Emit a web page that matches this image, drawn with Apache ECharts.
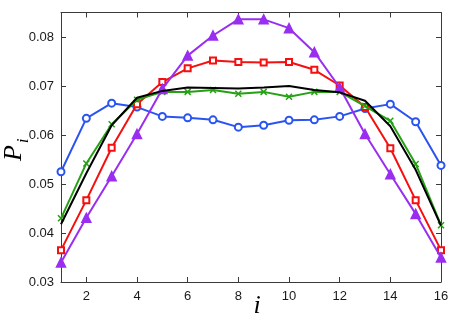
<!DOCTYPE html>
<html>
<head>
<meta charset="utf-8">
<script src="https://cdn.jsdelivr.net/npm/echarts@6/dist/echarts.min.js"></script>
<style>
  html, body { margin: 0; padding: 0; background: #fff; }
  #main { width: 457px; height: 322px; }
</style>
</head>
<body>
<div id="main"></div>
<script>
var idx = [1, 2, 3, 4, 5, 6, 7, 8, 9, 10, 11, 12, 13, 14, 15, 16];
var xTicks = [2, 4, 6, 8, 10, 12, 14, 16];
var yTicks = [0.03, 0.04, 0.05, 0.06, 0.07, 0.08];

var blue   = [0.0525, 0.0634, 0.0665, 0.0657, 0.0638, 0.0635, 0.0631, 0.0616, 0.0620, 0.0630, 0.0631, 0.0638, 0.0654, 0.0663, 0.0627, 0.0538];
var red    = [0.0365, 0.0467, 0.0574, 0.0663, 0.0708, 0.0736, 0.0752, 0.0749, 0.0748, 0.0749, 0.0733, 0.0701, 0.0657, 0.0573, 0.0467, 0.0365];
var green  = [0.0430, 0.0542, 0.0622, 0.0672, 0.0688, 0.0688, 0.0692, 0.0684, 0.0688, 0.0678, 0.0688, 0.0688, 0.0659, 0.0629, 0.0541, 0.0416];
var purple = [0.0340, 0.0431, 0.0516, 0.0602, 0.0694, 0.0762, 0.0803, 0.0836, 0.0836, 0.0818, 0.0769, 0.0697, 0.0602, 0.0520, 0.0439, 0.0350];
var black  = [0.0418, 0.0522, 0.0620, 0.0676, 0.0690, 0.0697, 0.0696, 0.0695, 0.0697, 0.0700, 0.0692, 0.0687, 0.0670, 0.0618, 0.0529, 0.0415];

function pairs(vals) {
  return idx.map(function (x, k) { return [x, vals[k]]; });
}

var axisCol = '#3a3a3a';
var labelFont = { fontFamily: 'Liberation Sans', fontSize: 13, color: '#1a1a1a' };

function mkSeries(vals, color, symbol, size, z) {
  return {
    type: 'line',
    data: pairs(vals),
    symbol: symbol,
    symbolSize: size,
    z: z,
    lineStyle: { color: color, width: 2 },
    itemStyle: { color: color, borderColor: color, borderWidth: 1.5 },
    emphasis: { disabled: true },
    animation: false
  };
}

var chart = echarts.init(document.getElementById('main'));
var option = {
  backgroundColor: '#fff',
  animation: false,
  grid: { left: 61, right: 16, top: 12.5, bottom: 40 },
  xAxis: [{
    type: 'value', min: 1, max: 16,
    axisLine: { lineStyle: { color: axisCol } },
    axisTick: { inside: true, length: 5, customValues: xTicks, lineStyle: { color: axisCol } },
    axisLabel: Object.assign({ customValues: xTicks, margin: 8 }, labelFont),
    splitLine: { show: false }
  }, {
    type: 'value', min: 1, max: 16, position: 'top',
    axisLine: { lineStyle: { color: axisCol } },
    axisTick: { inside: true, length: 5, customValues: xTicks, lineStyle: { color: axisCol } },
    axisLabel: { show: false },
    splitLine: { show: false }
  }],
  yAxis: [{
    type: 'value', min: 0.03, max: 0.085,
    axisLine: { show: true, lineStyle: { color: axisCol } },
    axisTick: { show: true, inside: true, length: 5, customValues: yTicks, lineStyle: { color: axisCol } },
    axisLabel: Object.assign({ customValues: yTicks, margin: 7, formatter: function (v) { return v.toFixed(2); } }, labelFont),
    splitLine: { show: false }
  }, {
    type: 'value', min: 0.03, max: 0.085, position: 'right',
    axisLine: { show: true, lineStyle: { color: axisCol } },
    axisTick: { show: true, inside: true, length: 5, customValues: yTicks, lineStyle: { color: axisCol } },
    axisLabel: { show: false },
    splitLine: { show: false }
  }],
  series: [
    mkSeries(blue, '#2a54f2', 'emptyCircle', 7, 2),
    mkSeries(red, '#f50f0f', 'emptyRect', 6, 3),
    mkSeries(green, '#25a114', 'path://M0,0L10,10M10,0L0,10', 6, 4),
    mkSeries(purple, '#9a2ef0', 'triangle', 9, 5),
    mkSeries(black, '#000000', 'none', 0, 6)
  ],
  graphic: [
    { type: 'text', x: 14, y: 153, rotation: Math.PI / 2,
      style: { text: 'P', font: 'italic 26px "Liberation Serif"', fill: '#000', textAlign: 'center', textVerticalAlign: 'middle' } },
    { type: 'text', x: 24, y: 141, rotation: Math.PI / 2,
      style: { text: 'i', font: 'italic 17px "Liberation Serif"', fill: '#000', textAlign: 'center', textVerticalAlign: 'middle' } },
    { type: 'text', x: 257, y: 306,
      style: { text: 'i', font: 'italic 26px "Liberation Serif"', fill: '#000', textAlign: 'center', textVerticalAlign: 'middle' } }
  ]
};
chart.setOption(option);
</script>
</body>
</html>
